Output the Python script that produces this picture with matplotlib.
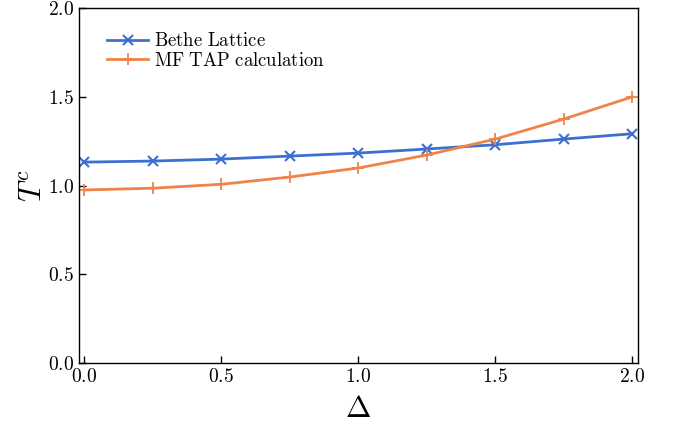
import matplotlib
matplotlib.use("Agg")
import matplotlib.pyplot as plt

plt.rcParams['mathtext.fontset'] = 'cm'
plt.rcParams['font.family'] = 'serif'
plt.rcParams['font.serif'] = ['DejaVu Serif']

delta = [0.0, 0.25, 0.5, 0.75, 1.0, 1.25, 1.5, 1.75, 2.0]
bethe = [1.132, 1.138, 1.149, 1.166, 1.183, 1.206, 1.230, 1.262, 1.292]
mf_tap = [0.975, 0.985, 1.007, 1.048, 1.099, 1.172, 1.262, 1.375, 1.500]

xticks = [0.0, 0.5, 1.0, 1.5, 2.0]
yticks = [0.0, 0.5, 1.0, 1.5, 2.0]

fig = plt.figure(figsize=(6.8, 4.29), dpi=100)
ax = fig.add_axes([0.116, 0.154, 0.822, 0.827])

ax.plot(delta, bethe, color='#3d6fd2', marker='x', markersize=7, markeredgewidth=1.5,
        linewidth=2, label=r'$\mathrm{Bethe\ Lattice}$')
ax.plot(delta, mf_tap, color='#f0834a', marker='+', markersize=8, markeredgewidth=1.3,
        linewidth=2, label=r'$\mathrm{MF\ TAP\ calculation}$')

ax.set_xlim(-0.02, 2.02)
ax.set_ylim(0, 2)
ax.set_xticks(xticks)
ax.set_yticks(yticks)
ax.set_xticklabels([r'$%.1f$' % v for v in xticks], fontsize=14)
ax.set_yticklabels([r'$%.1f$' % v for v in yticks], fontsize=14)
ax.tick_params(direction='in', length=5, width=1)
for s in ax.spines.values():
    s.set_linewidth(1)

ax.set_xlabel(r'$\Delta$', fontsize=22, labelpad=5)
ax.set_ylabel(r'$T^c$', fontsize=22, labelpad=0)

ax.legend(loc='upper left', bbox_to_anchor=(0.02, 0.98), frameon=False, fontsize=13.5,
          handlelength=2.2, handletextpad=0.3, labelspacing=0.1)

fig.savefig('out.png', dpi=100)
